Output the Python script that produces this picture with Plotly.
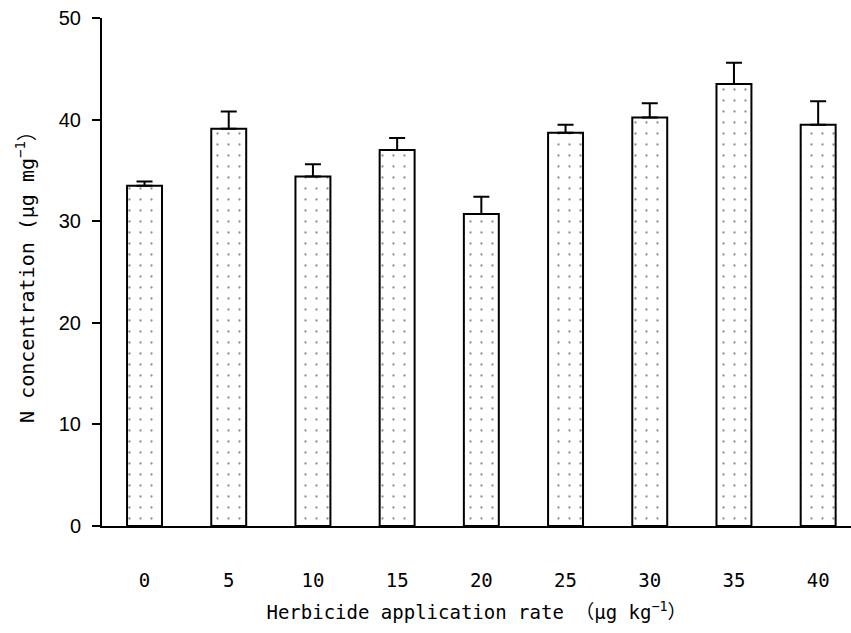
import plotly.graph_objects as go

# Herbicide application rates (µg kg-1) and measured N concentration (µg mg-1)
rates = ["0", "5", "10", "15", "20", "25", "30", "35", "40"]
n_conc = [33.5, 39.1, 34.4, 37.0, 30.7, 38.7, 40.2, 43.5, 39.5]
n_se = [0.4, 1.7, 1.2, 1.2, 1.7, 0.8, 1.4, 2.1, 2.3]
y_ticks = [0, 10, 20, 30, 40, 50]

latin = "Liberation Sans, Arial, sans-serif"
gothic = "DejaVu Sans Mono, Noto Sans CJK JP, monospace"

fig = go.Figure(
    go.Bar(
        x=rates,
        y=n_conc,
        width=0.415,
        marker=dict(
            color="white",
            line=dict(color="black", width=2),
            pattern=dict(shape=".", size=11, solidity=0.035,
                         fgcolor="#222222", bgcolor="white"),
        ),
        error_y=dict(
            type="data",
            symmetric=False,
            array=n_se,
            arrayminus=[0] * len(n_se),
            color="black",
            thickness=2,
            width=8,
        ),
    )
)

fig.update_layout(
    width=851,
    height=633,
    margin=dict(l=102, r=0, t=18, b=107),
    paper_bgcolor="white",
    plot_bgcolor="white",
    showlegend=False,
    xaxis=dict(
        type="category",
        range=[-0.505, 8.39],
        showline=True,
        linecolor="black",
        linewidth=2,
        ticks="",
        showgrid=False,
        tickfont=dict(family=gothic, size=19, color="black"),
        ticklabelstandoff=36,
        title=dict(
            text="Herbicide application rate （μg kg<sup>−1</sup>）",
            font=dict(family=gothic, size=19, color="black"),
            standoff=16,
        ),
    ),
    yaxis=dict(
        range=[0, 50],
        tickvals=y_ticks,
        showline=True,
        linecolor="black",
        linewidth=2,
        ticks="outside",
        ticklen=8,
        tickwidth=2,
        tickcolor="black",
        showgrid=False,
        zeroline=False,
        ticklabelstandoff=7,
        tickfont=dict(family=latin, size=20, color="black"),
        title=dict(
            text="N concentration (μg mg<sup>−1</sup>）",
            font=dict(family=gothic, size=20, color="black"),
            standoff=19,
        ),
    ),
)

fig.write_html("out.html")
